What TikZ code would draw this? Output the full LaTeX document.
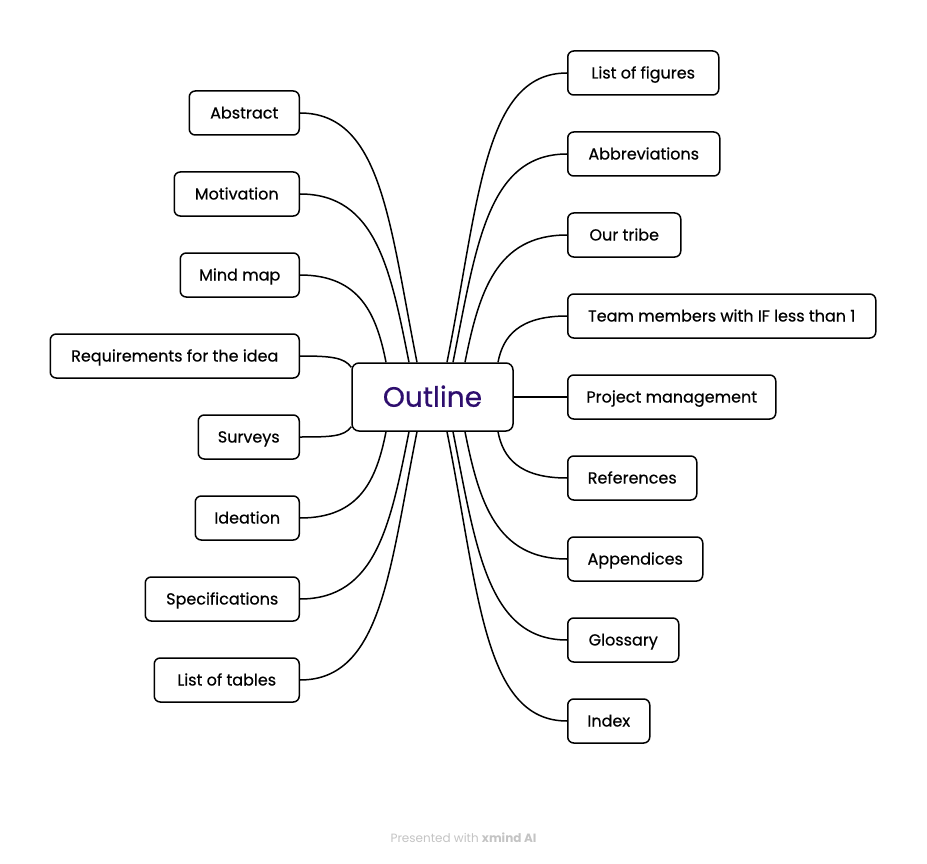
\documentclass[tikz,border=0pt]{standalone}
\usepackage{fontspec}
\setmainfont{Poppins}
\newfontfamily\topicfont{Poppins}[FakeBold=0.5]
\usetikzlibrary{calc}
\definecolor{outlinepurple}{HTML}{2E0E6E}
\definecolor{footgray}{HTML}{C4C4C4}
\tikzset{
  topic/.style={draw=black, line width=1.5pt, rounded corners=6pt, fill=white,
    minimum height=44pt, inner sep=0pt, text height=11.5pt, text depth=0.5pt,
    font=\topicfont\fontsize{16}{18}\selectfont},
  central/.style={draw=black, line width=1.5pt, rounded corners=7pt, fill=white,
    minimum width=161pt, minimum height=68pt, inner sep=0pt, text height=19.5pt, text depth=0pt,
    font=\topicfont\fontsize{28}{32}\selectfont, text=outlinepurple},
  branch/.style={draw=black, line width=1.5pt},
}
\begin{document}
\begin{tikzpicture}[x=1pt,y=-1pt]
\useasboundingbox (0,0) rectangle (927,864);
\fill[white] (0,0) rectangle (927,864);

\node[central] (o) at (432.5,397) {Outline};

% left
\node[topic, anchor=east, minimum width=110pt] (abs) at (300,113) {Abstract};
\node[topic, anchor=east, minimum width=125pt] (mot) at (300,194) {Motivation};
\node[topic, anchor=east, minimum width=119pt] (mm) at (300,275) {Mind map};
\node[topic, anchor=east, minimum width=249pt] (req) at (300,356) {Requirements for the idea};
\node[topic, anchor=east, minimum width=101pt] (sur) at (300,437) {Surveys};
\node[topic, anchor=east, minimum width=104pt] (ide) at (300,518) {Ideation};
\node[topic, anchor=east, minimum width=154pt] (spe) at (300,599) {Specifications};
\node[topic, anchor=east, minimum width=145pt] (lot) at (300,680) {List of tables};

% right
\node[topic, anchor=west, minimum width=151pt] (lof) at (567,73) {List of figures};
\node[topic, anchor=west, minimum width=152pt] (abb) at (567,154) {Abbreviations};
\node[topic, anchor=west, minimum width=113pt] (tri) at (567,235) {Our tribe};
\node[topic, anchor=west, minimum width=308pt] (tea) at (567,316) {Team members with IF less than 1};
\node[topic, anchor=west, minimum width=208pt] (pm) at (567,397) {Project management};
\node[topic, anchor=west, minimum width=129pt] (ref) at (567,478) {References};
\node[topic, anchor=west, minimum width=135pt] (app) at (567,559) {Appendices};
\node[topic, anchor=west, minimum width=111pt] (glo) at (567,640) {Glossary};
\node[topic, anchor=west, minimum width=82pt] (ind) at (567,721) {Index};

% connectors left-top
\draw[branch] (abs.east) .. controls ($(abs.east)+(82,0)$) and ($(o.north)+(-43,-137.5)$) .. ($(o.north)+(-15.5,0)$);
\draw[branch] (mot.east) .. controls ($(mot.east)+(76,0)$) and ($(o.north)+(-42,-93)$) .. ($(o.north)+(-23.5,0)$);
\draw[branch] (mm.east) .. controls ($(mm.east)+(60,0)$) and ($(o.north)+(-56,-48)$) .. ($(o.north)+(-46.5,0)$);
\draw[branch] (req.east) .. controls ($(req.east)+(30,0)$) and ($(o.north west)+(-7,-5)$) .. ($(o.north west)+(0,5)$);
% left-bottom
\draw[branch] (sur.east) .. controls ($(sur.east)+(30,0)$) and ($(o.south west)+(-7,5)$) .. ($(o.south west)+(0,-5)$);
\draw[branch] (ide.east) .. controls ($(ide.east)+(60,0)$) and ($(o.south)+(-56,48)$) .. ($(o.south)+(-46.5,0)$);
\draw[branch] (spe.east) .. controls ($(spe.east)+(76,0)$) and ($(o.south)+(-42,93)$) .. ($(o.south)+(-23.5,0)$);
\draw[branch] (lot.east) .. controls ($(lot.east)+(82,0)$) and ($(o.south)+(-43,137.5)$) .. ($(o.south)+(-15.5,0)$);
% right-top
\draw[branch] (lof.west) .. controls ($(lof.west)+(-84,0)$) and ($(o.north)+(46.5,-159.5)$) .. ($(o.north)+(14.5,0)$);
\draw[branch] (abb.west) .. controls ($(abb.west)+(-80,0)$) and ($(o.north)+(43.5,-115)$) .. ($(o.north)+(20.5,0)$);
\draw[branch] (tri.west) .. controls ($(tri.west)+(-71,0)$) and ($(o.north)+(46.5,-70)$) .. ($(o.north)+(32.5,0)$);
\draw[branch] (tea.west) .. controls ($(tea.west)+(-48,0)$) and ($(o.north)+(70.5,-26)$) .. ($(o.north)+(65.5,0)$);
\draw[branch] (o.east) -- (pm.west);
% right-bottom
\draw[branch] (ref.west) .. controls ($(ref.west)+(-48,0)$) and ($(o.south)+(70.5,26)$) .. ($(o.south)+(65.5,0)$);
\draw[branch] (app.west) .. controls ($(app.west)+(-71,0)$) and ($(o.south)+(46.5,70)$) .. ($(o.south)+(32.5,0)$);
\draw[branch] (glo.west) .. controls ($(glo.west)+(-80,0)$) and ($(o.south)+(43.5,115)$) .. ($(o.south)+(20.5,0)$);
\draw[branch] (ind.west) .. controls ($(ind.west)+(-84,0)$) and ($(o.south)+(46.5,159.5)$) .. ($(o.south)+(14.5,0)$);

\node[text=footgray, font=\fontsize{12}{14}\selectfont] (foot) at (463.5,838) {Presented with \textbf{xmind AI}};
\end{tikzpicture}
\end{document}
